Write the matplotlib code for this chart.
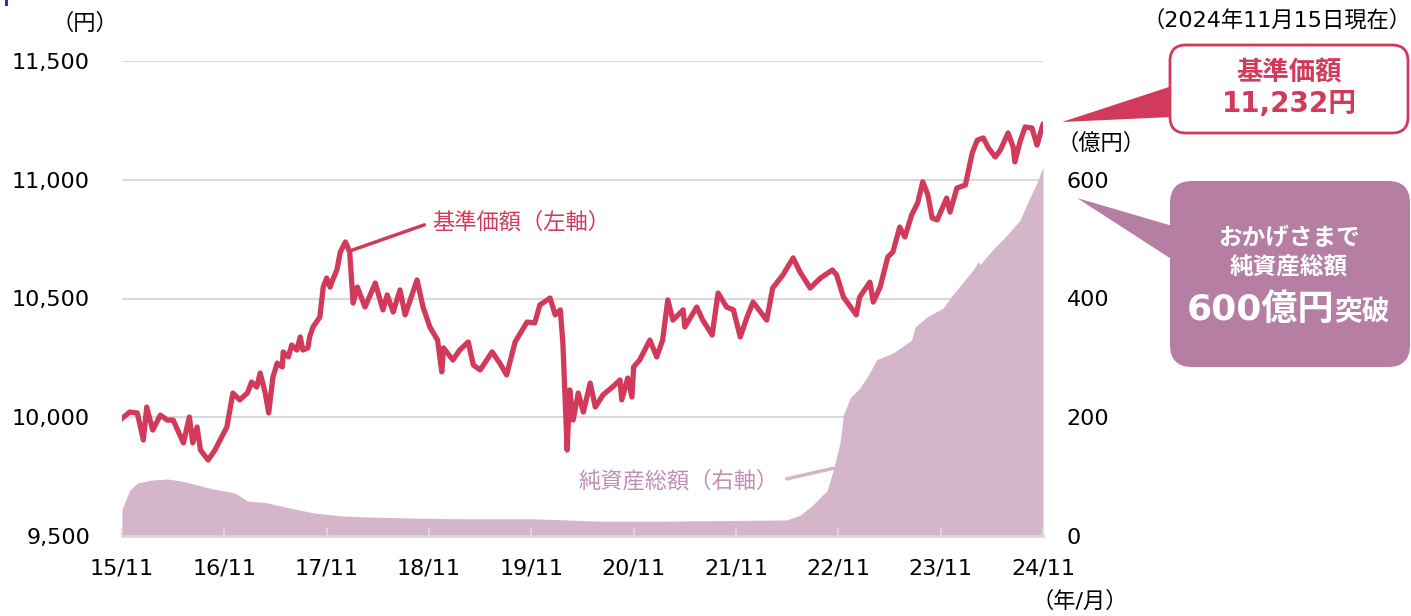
import matplotlib
matplotlib.use('Agg')
import matplotlib.pyplot as plt
from matplotlib.patches import FancyBboxPatch, Polygon, Rectangle

# ---------------------------------------------------------------------------
# Data. x = months since 2015/11
# ---------------------------------------------------------------------------
nav_month = [
    0.0, 0.9, 1.8, 2.5, 2.9, 3.6, 4.5, 5.3, 6.0, 7.2,
    7.9, 8.3, 8.8, 9.2, 10.1, 10.9, 11.5, 12.3, 13.0, 13.8,
    14.7, 15.2, 15.8, 16.2, 16.8, 17.2, 17.7, 18.2, 18.8, 18.9,
    19.5, 19.9, 20.5, 20.9, 21.2, 21.8, 22.0, 22.4, 23.2, 23.6,
    24.0, 24.4, 24.7, 25.2, 25.6, 26.2, 26.7, 27.1, 27.6, 28.5,
    29.7, 30.6, 31.1, 31.8, 32.6, 33.2, 33.8, 34.6, 35.3, 36.1,
    37.0, 37.5, 37.7, 38.8, 39.6, 40.6, 41.2, 42.0, 43.4, 44.3,
    45.1, 46.1, 47.5, 48.4, 49.0, 50.2, 50.8, 51.4, 51.7, 52.2,
    52.5, 52.9, 53.5, 54.1, 54.9, 55.5, 56.4, 57.5, 58.4, 58.6,
    59.3, 59.8, 60.0, 60.7, 61.9, 62.7, 63.4, 64.0, 64.6, 65.8,
    66.0, 67.4, 68.1, 69.2, 69.9, 70.9, 71.7, 72.5, 73.3, 74.0,
    75.6, 76.3, 77.5, 78.7, 79.5, 80.7, 81.9, 83.3, 83.8, 84.6,
    85.1, 86.1, 86.5, 87.7, 88.1, 88.9, 89.8, 90.4, 91.2, 91.8,
    92.6, 93.3, 93.9, 94.5, 95.0, 95.6, 96.7, 97.1, 97.9, 98.9,
    99.1, 99.7, 100.3, 101.0, 101.6, 102.4, 103.0, 103.9, 104.5, 104.7,
    105.3, 105.9, 106.7, 107.3, 107.9, 108.0,
]
nav_yen = [
    9995, 10022, 10018, 9904, 10043, 9946, 10009, 9988, 9988, 9892,
    10001, 9892, 9959, 9862, 9820, 9862, 9904, 9959, 10102, 10073,
    10102, 10148, 10127, 10186, 10102, 10018, 10169, 10228, 10212, 10275,
    10254, 10304, 10283, 10338, 10283, 10292, 10338, 10380, 10422, 10548,
    10586, 10548, 10578, 10620, 10696, 10738, 10696, 10481, 10548, 10464,
    10565, 10452, 10515, 10443, 10536, 10431, 10494, 10578, 10464, 10380,
    10325, 10191, 10292, 10241, 10283, 10317, 10220, 10199, 10275, 10228,
    10178, 10317, 10401, 10397, 10473, 10502, 10431, 10452, 10313, 9862,
    10115, 9988, 10102, 10022, 10144, 10043, 10094, 10127, 10157, 10073,
    10165, 10085, 10212, 10241, 10325, 10254, 10325, 10494, 10409, 10452,
    10380, 10464, 10409, 10346, 10523, 10464, 10452, 10338, 10422, 10485,
    10409, 10544, 10599, 10671, 10612, 10544, 10586, 10620, 10599, 10506,
    10481, 10431, 10506, 10569, 10485, 10548, 10675, 10696, 10801, 10759,
    10852, 10902, 10991, 10936, 10839, 10831, 10923, 10864, 10965, 10978,
    11012, 11113, 11167, 11176, 11134, 11096, 11125, 11197, 11138, 11075,
    11159, 11222, 11218, 11146, 11222, 11232,
]

assets_month = [
    0.0, 0.9, 1.8, 3.3, 5.3, 6.8, 8.3, 10.7, 12.7, 13.3,
    14.7, 17.0, 19.7, 22.4, 25.6, 28.7, 34.6, 40.5, 48.2, 52.2,
    56.1, 63.1, 78.0, 79.5, 81.0, 82.7, 83.4, 84.2, 84.6, 85.4,
    86.5, 87.4, 88.5, 90.4, 92.6, 93.0, 94.4, 96.3, 97.4, 99.8,
    100.4, 100.6, 102.1, 103.8, 105.3, 106.5, 107.3, 108.0,
]
assets_oku = [
    45, 77, 89, 94, 96, 93, 88, 79, 74, 72,
    59, 56, 47, 39, 34, 32, 30, 29, 29, 27,
    25, 25, 27, 35, 52, 77, 111, 157, 204, 233,
    249, 268, 297, 308, 330, 352, 369, 384, 406, 448,
    462, 457, 482, 507, 532, 571, 595, 622,
]

x_ticks = list(range(0, 109, 12))
x_labels = ['15/11', '16/11', '17/11', '18/11', '19/11',
            '20/11', '21/11', '22/11', '23/11', '24/11']
left_ticks = [9500, 10000, 10500, 11000, 11500]
right_ticks = [0, 200, 400, 600, 800]

RED = '#D23A5B'
AREA = '#D5B5CA'
MAUVE = '#B67EA2'
MAUVE_TXT = '#C18FB2'
GRID = '#D9D9D9'

plt.rcParams['font.family'] = ['DejaVu Sans', 'Noto Sans CJK JP']

W, H = 1411, 616
fig = plt.figure(figsize=(W / 100, H / 100), dpi=100)

ax = fig.add_axes([122 / W, (H - 536) / H, 921 / W, 475 / H])
ax2 = ax.twinx()
ax.set_zorder(2)
ax2.set_zorder(1)
ax.patch.set_visible(False)

# net assets area (right axis), grid lives here so the area covers it
ax2.fill_between(assets_month, assets_oku, 0, color=AREA, lw=0)
ax2.set_ylim(0, 800)
ax2.set_yticks(right_ticks)
ax2.set_yticklabels([str(v) if v < 800 else '' for v in right_ticks])
ax2.grid(axis='y', color=GRID, lw=1.5)
ax2.set_axisbelow(True)
ax2.tick_params(axis='y', length=0, pad=17, labelsize=16)
for s in ax2.spines.values():
    s.set_visible(False)

# NAV line (left axis)
ax.plot(nav_month, nav_yen, color=RED, lw=3.8, solid_joinstyle='round')
ax.set_xlim(0, 108)
ax.set_ylim(9500, 11500)
ax.set_yticks(left_ticks)
ax.set_yticklabels([f'{v:,}' for v in left_ticks])
ax.tick_params(axis='y', length=0, pad=23, labelsize=16)
ax.set_xticks(x_ticks)
ax.set_xticklabels(x_labels)
ax.tick_params(axis='x', direction='in', length=6, width=1.5, color=GRID,
               pad=16, labelsize=16)
for k in ['top', 'left', 'right']:
    ax.spines[k].set_visible(False)
ax.spines['bottom'].set_color(GRID)
ax.spines['bottom'].set_linewidth(2)

# series labels
ax.annotate('基準価額（左軸）', xy=(26.7, 10700), xytext=(36.4, 10822),
            color=RED, fontsize=16, ha='left', va='center',
            arrowprops=dict(arrowstyle='-', color=RED, lw=2.5,
                            relpos=(0, 0.5), shrinkA=4, shrinkB=0))
ax2.annotate('純資産総額（右軸）', xy=(83.4, 114), xytext=(53.5, 93),
             color=MAUVE_TXT, fontsize=16, ha='left', va='center',
             arrowprops=dict(arrowstyle='-', color=AREA, lw=2.5,
                             relpos=(1, 0.5), shrinkA=4, shrinkB=0))

# ---------------------------------------------------------------------------
# Overlay in pixel coordinates for units and callouts
# ---------------------------------------------------------------------------
ov = fig.add_axes([0, 0, 1, 1], zorder=5)
ov.set_xlim(0, W)
ov.set_ylim(H, 0)
ov.axis('off')

ov.add_patch(Rectangle((5, 0), 3, 6, color='#1F3C99', lw=0))

ov.text(85, 23, '（円）', fontsize=16, ha='center', va='center')
ov.text(1101, 143, '（億円）', fontsize=16, ha='center', va='center')
ov.text(1080, 601, '（年/月）', fontsize=16, ha='center', va='center')
ov.text(1411, 20, '（2024年11月15日現在）', fontsize=16, ha='right', va='center')

# NAV callout
ov.add_patch(Polygon([(1062, 122), (1172, 86), (1172, 117)],
                     closed=True, fc=RED, ec='none', zorder=1))
ov.add_patch(FancyBboxPatch((1170, 45), 238, 88,
                            boxstyle='round,pad=0,rounding_size=16',
                            fc='white', ec=RED, lw=2, zorder=2))
ov.text(1289, 72, '基準価額', color=RED, fontsize=19, fontweight='bold',
        ha='center', va='center', zorder=3)
ov.text(1289, 104, '11,232円', color=RED, fontsize=20, fontweight='bold',
        ha='center', va='center', zorder=3)

# net assets callout
ov.add_patch(Polygon([(1077, 198), (1176, 227), (1176, 262)],
                     closed=True, fc=MAUVE, ec='none', zorder=1))
ov.add_patch(FancyBboxPatch((1170, 181), 240, 186,
                            boxstyle='round,pad=0,rounding_size=22',
                            fc=MAUVE, ec='none', zorder=2))
ov.text(1289, 238, 'おかげさまで', color='white', fontsize=17,
        fontweight='bold', ha='center', va='center', zorder=3)
ov.text(1289, 267, '純資産総額', color='white', fontsize=17,
        fontweight='bold', ha='center', va='center', zorder=3)
ov.text(1334, 320, '600億円', color='white', fontsize=26,
        fontweight='bold', ha='right', va='baseline', zorder=3)
ov.text(1334, 320, '突破', color='white', fontsize=20,
        fontweight='bold', ha='left', va='baseline', zorder=3)

fig.savefig('out.png', dpi=100)
